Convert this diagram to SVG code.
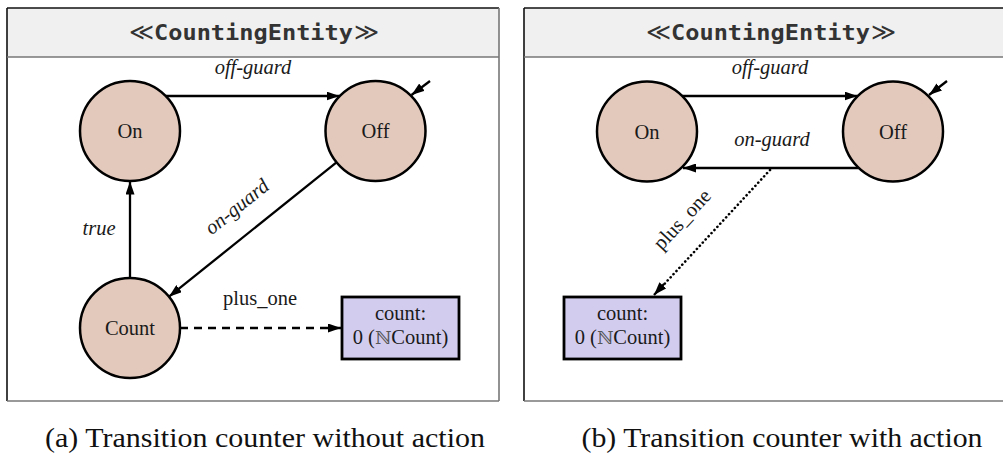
<svg xmlns="http://www.w3.org/2000/svg" width="1003" height="457" viewBox="0 0 1003 457">
  <style>
    .frame { fill: #ffffff; stroke: none; }
    .hdr { fill: #f0f0f0; stroke: none; }
    .edge-dark { stroke: #111; stroke-width: 1.6; fill: none; }
    .edge-gray { stroke: #777; stroke-width: 1.6; fill: none; }
    .stereo { font-family: "DejaVu Serif", "Liberation Serif", serif; font-size: 24px; fill: #333; text-anchor: middle; }
    .name { font-family: "DejaVu Sans Mono", "Liberation Mono", monospace; font-weight: bold; font-size: 21px; fill: #333; }
    .state circle { fill: #e3c9bc; stroke: #000; stroke-width: 2.5; }
    .state text, .var text { font-family: "Liberation Serif", "DejaVu Serif", serif; font-size: 20.5px; fill: #1a1a1a; text-anchor: middle; }
    .var rect { fill: #d2cdef; stroke: #000; stroke-width: 2.8; }
    .bb { fill: #555; font-family: "DejaVu Serif", serif; font-size: 18px; }
    .conn { stroke: #000; stroke-width: 2.3; fill: none; }
    .dash { stroke-dasharray: 8 6; }
    .dot { stroke-dasharray: 0.1 4.2; stroke-linecap: round; stroke-width: 2.6; }
    .lbl { font-family: "Liberation Serif", "DejaVu Serif", serif; font-size: 20.5px; fill: #1a1a1a; text-anchor: middle; }
    .it { font-style: italic; }
    .cap { font-family: "Liberation Serif", "DejaVu Serif", serif; font-size: 28px; fill: #111; text-anchor: middle; }
  </style>
  <defs>
    <marker id="arr" viewBox="0 0 13 9" refX="13" refY="4.5" markerWidth="13" markerHeight="9" markerUnits="userSpaceOnUse" orient="auto">
      <path d="M0,0 L13,4.5 L0,9 Z" fill="#000"/>
    </marker>
  </defs>

  <!-- ===== Panel (a) ===== -->
  <g id="panel-a">
    <rect class="frame" x="7" y="8" width="492" height="393"/>
    <rect class="hdr" x="7" y="8" width="492" height="49"/>
    <line class="edge-dark" x1="7" y1="8" x2="499" y2="8"/>
    <line class="edge-dark" x1="7" y1="8" x2="7" y2="401"/>
    <line class="edge-gray" x1="7" y1="57" x2="499" y2="57"/>
    <line class="edge-gray" x1="7" y1="401" x2="499" y2="401"/>
    <line class="edge-gray" x1="499" y1="8" x2="499" y2="401"/>
    <text class="stereo" x="141" y="40">≪</text>
    <text class="name" x="154" y="39.5" textLength="199" lengthAdjust="spacingAndGlyphs">CountingEntity</text>
    <text class="stereo" x="366" y="40">≫</text>
  </g>

  <g id="a-on" class="state">
    <circle cx="130" cy="131" r="50"/>
    <text x="130" y="138">On</text>
  </g>
  <g id="a-off" class="state">
    <circle cx="375.5" cy="131" r="50"/>
    <text x="375.5" y="138">Off</text>
  </g>
  <g id="a-count" class="state">
    <circle cx="130" cy="328" r="50"/>
    <text x="130" y="335">Count</text>
  </g>
  <g id="a-var" class="var">
    <rect x="342" y="297" width="117" height="62"/>
    <text x="400.5" y="320">count:</text>
    <text x="400.5" y="344">0 (<tspan class="bb">ℕ</tspan>Count)</text>
  </g>

  <g id="a-connectors">
    <line class="conn" x1="166" y1="96" x2="339.5" y2="96" marker-end="url(#arr)"/>
    <text class="lbl it" x="253" y="74">off-guard</text>
    <line class="conn" x1="430" y1="81" x2="411.5" y2="95" marker-end="url(#arr)"/>
    <line class="conn" x1="336.5" y1="162.3" x2="169" y2="296.7" marker-end="url(#arr)"/>
    <text class="lbl it" transform="translate(241,212) rotate(-38.7)">on-guard</text>
    <line class="conn" x1="130" y1="278" x2="130" y2="181.5" marker-end="url(#arr)"/>
    <text class="lbl it" x="99" y="235">true</text>
    <line class="conn dash" x1="180" y1="328" x2="341" y2="328" marker-end="url(#arr)"/>
    <text class="lbl" x="260" y="305">plus_one</text>
  </g>

  <text class="cap" x="265" y="447" textLength="440" lengthAdjust="spacingAndGlyphs">(a) Transition counter without action</text>

  <!-- ===== Panel (b) ===== -->
  <g id="panel-b">
    <rect class="frame" x="524" y="8" width="492" height="393"/>
    <rect class="hdr" x="524" y="8" width="492" height="49"/>
    <line class="edge-dark" x1="524" y1="8" x2="1016" y2="8"/>
    <line class="edge-dark" x1="524" y1="8" x2="524" y2="401"/>
    <line class="edge-gray" x1="524" y1="57" x2="1016" y2="57"/>
    <line class="edge-gray" x1="524" y1="401" x2="1016" y2="401"/>
    <text class="stereo" x="658" y="40">≪</text>
    <text class="name" x="671" y="39.5" textLength="199" lengthAdjust="spacingAndGlyphs">CountingEntity</text>
    <text class="stereo" x="883" y="40">≫</text>
  </g>

  <g id="b-on" class="state">
    <circle cx="647" cy="131.5" r="50"/>
    <text x="647" y="138.5">On</text>
  </g>
  <g id="b-off" class="state">
    <circle cx="893" cy="131.5" r="50"/>
    <text x="893" y="138.5">Off</text>
  </g>
  <g id="b-var" class="var">
    <rect x="564" y="297" width="117" height="62"/>
    <text x="622.5" y="320">count:</text>
    <text x="622.5" y="344">0 (<tspan class="bb">ℕ</tspan>Count)</text>
  </g>

  <g id="b-connectors">
    <line class="conn" x1="682" y1="96" x2="857.5" y2="96" marker-end="url(#arr)"/>
    <text class="lbl it" x="770" y="74">off-guard</text>
    <line class="conn" x1="858.5" y1="168" x2="683" y2="168" marker-end="url(#arr)"/>
    <text class="lbl it" x="772" y="146">on-guard</text>
    <line class="conn" x1="947" y1="81" x2="929" y2="95" marker-end="url(#arr)"/>
    <line class="conn dot" x1="770" y1="170" x2="657" y2="292"/>
    <line class="conn" x1="664" y1="284" x2="654" y2="295" marker-end="url(#arr)"/>
    <text class="lbl" transform="translate(687,224) rotate(-47)">plus_one</text>
  </g>

  <text class="cap" x="782" y="447" textLength="401" lengthAdjust="spacingAndGlyphs">(b) Transition counter with action</text>
</svg>
